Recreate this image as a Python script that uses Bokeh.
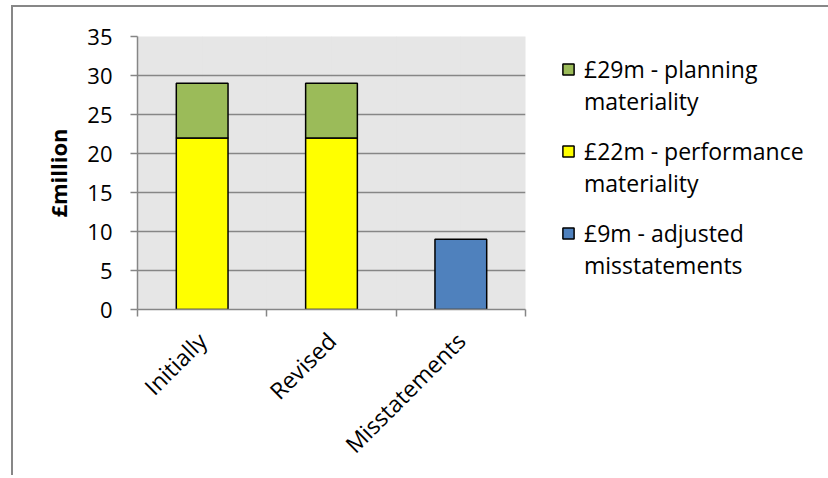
from math import pi
from bokeh.plotting import figure
from bokeh.models import (Range1d, LinearAxis, FixedTicker, Legend, LegendItem)
from bokeh.embed import file_html
from bokeh.resources import INLINE

# ---- data ----
categories = ["Initially", "Revised", "Misstatements"]
stack_cats = ["Initially", "Revised"]
performance = [22, 22]
planning = [29, 29]
mis_cats = ["Misstatements"]
misstatements = [9]
y_ticks = [0, 5, 10, 15, 20, 25, 30, 35]
legend_lines = [["£29m - planning", "materiality"],
                ["£22m - performance", "materiality"],
                ["£9m - adjusted", "misstatements"]]

FONT = "Open Sans"
GRID = "#868686"

# category slots on a numeric axis: slot i spans [i, i+1]
center = {c: i + 0.5 for i, c in enumerate(categories)}
boundary_ticks = list(range(len(categories) + 1))

p = figure(x_range=Range1d(0, len(categories)),
           y_range=Range1d(0, 35),
           frame_width=388, frame_height=273,
           min_border_left=124, min_border_right=300,
           min_border_top=29, min_border_bottom=166,
           x_axis_location=None,
           output_backend="svg", toolbar_location=None)

p.styles = {"border-top": "2px solid #878787", "border-left": "2px solid #878787",
            "margin-left": "11px", "margin-top": "5px"}

p.background_fill_color = "#e6e6e6"
p.border_fill_color = "white"
p.outline_line_color = None

# y axis
ya = p.yaxis[0]
ya.ticker = FixedTicker(ticks=y_ticks)
ya.major_tick_out = 7
ya.major_tick_in = 0
ya.minor_tick_line_color = None
ya.axis_line_color = GRID
ya.major_tick_line_color = GRID
ya.axis_line_width = 1.5
ya.major_tick_line_width = 1.5
ya.major_label_standoff = 18
ya.major_label_text_font = FONT
ya.major_label_text_font_size = "22px"
ya.major_label_text_color = "black"
ya.axis_label = "£million"
ya.axis_label_text_font = FONT
ya.axis_label_text_font_size = "22px"
ya.axis_label_text_font_style = "bold"
ya.axis_label_text_color = "black"
ya.axis_label_standoff = 11

p.ygrid.grid_line_color = GRID
p.ygrid.grid_line_width = 1.5

# x axis: boundary ticks (no labels)
tick_axis = LinearAxis(ticker=FixedTicker(ticks=boundary_ticks),
                       major_label_overrides={t: "" for t in boundary_ticks},
                       major_label_text_font_size="4px", major_label_standoff=0,
                       major_tick_out=7, major_tick_in=0,
                       axis_line_color=GRID, major_tick_line_color=GRID,
                       axis_line_width=1.5, major_tick_line_width=1.5,
                       minor_tick_line_color=None)
p.add_layout(tick_axis, "below")

cat_axis = LinearAxis(ticker=FixedTicker(ticks=[center[c] for c in categories]),
                      major_label_overrides={center[c]: c for c in categories},
                      major_tick_line_color=None, axis_line_color=None,
                      minor_tick_line_color=None,
                      major_label_orientation=pi / 4,
                      major_label_text_font=FONT,
                      major_label_text_font_size="23px",
                      major_label_text_color="black",
                      major_label_standoff=14)
p.add_layout(cat_axis, "below")

# bars
xs = [center[c] for c in stack_cats]
r_yel = p.vbar(x=xs, top=performance, bottom=0, width=0.4,
               fill_color="#ffff00", line_color="black", line_width=1.5)
r_grn = p.vbar(x=xs, top=planning, bottom=performance, width=0.4,
               fill_color="#9bbb59", line_color="black", line_width=1.5)
r_blu = p.vbar(x=[center[c] for c in mis_cats], top=misstatements, bottom=0, width=0.4,
               fill_color="#4f81bd", line_color="black", line_width=1.5)
# invisible proxy used for legend continuation lines / gaps
r_blank = p.vbar(x=[], top=[], width=0.4, fill_alpha=0, line_alpha=0)

items = []
for k, (rend, lines) in enumerate(zip([r_grn, r_yel, r_blu], legend_lines)):
    if k > 0:
        items.append(LegendItem(label="", renderers=[r_blank]))
    items.append(LegendItem(label=lines[0], renderers=[rend]))
    items.append(LegendItem(label=lines[1], renderers=[r_blank]))

legend = Legend(items=items,
                location=(36, 28),
                label_text_font=FONT, label_text_font_size="23px",
                label_text_color="black", label_height=18,
                glyph_width=14, glyph_height=14, label_standoff=9,
                spacing=0, padding=0, margin=0,
                border_line_color=None, background_fill_alpha=0)
p.add_layout(legend, "right")

open("out.html", "w").write(file_html(p, INLINE))
